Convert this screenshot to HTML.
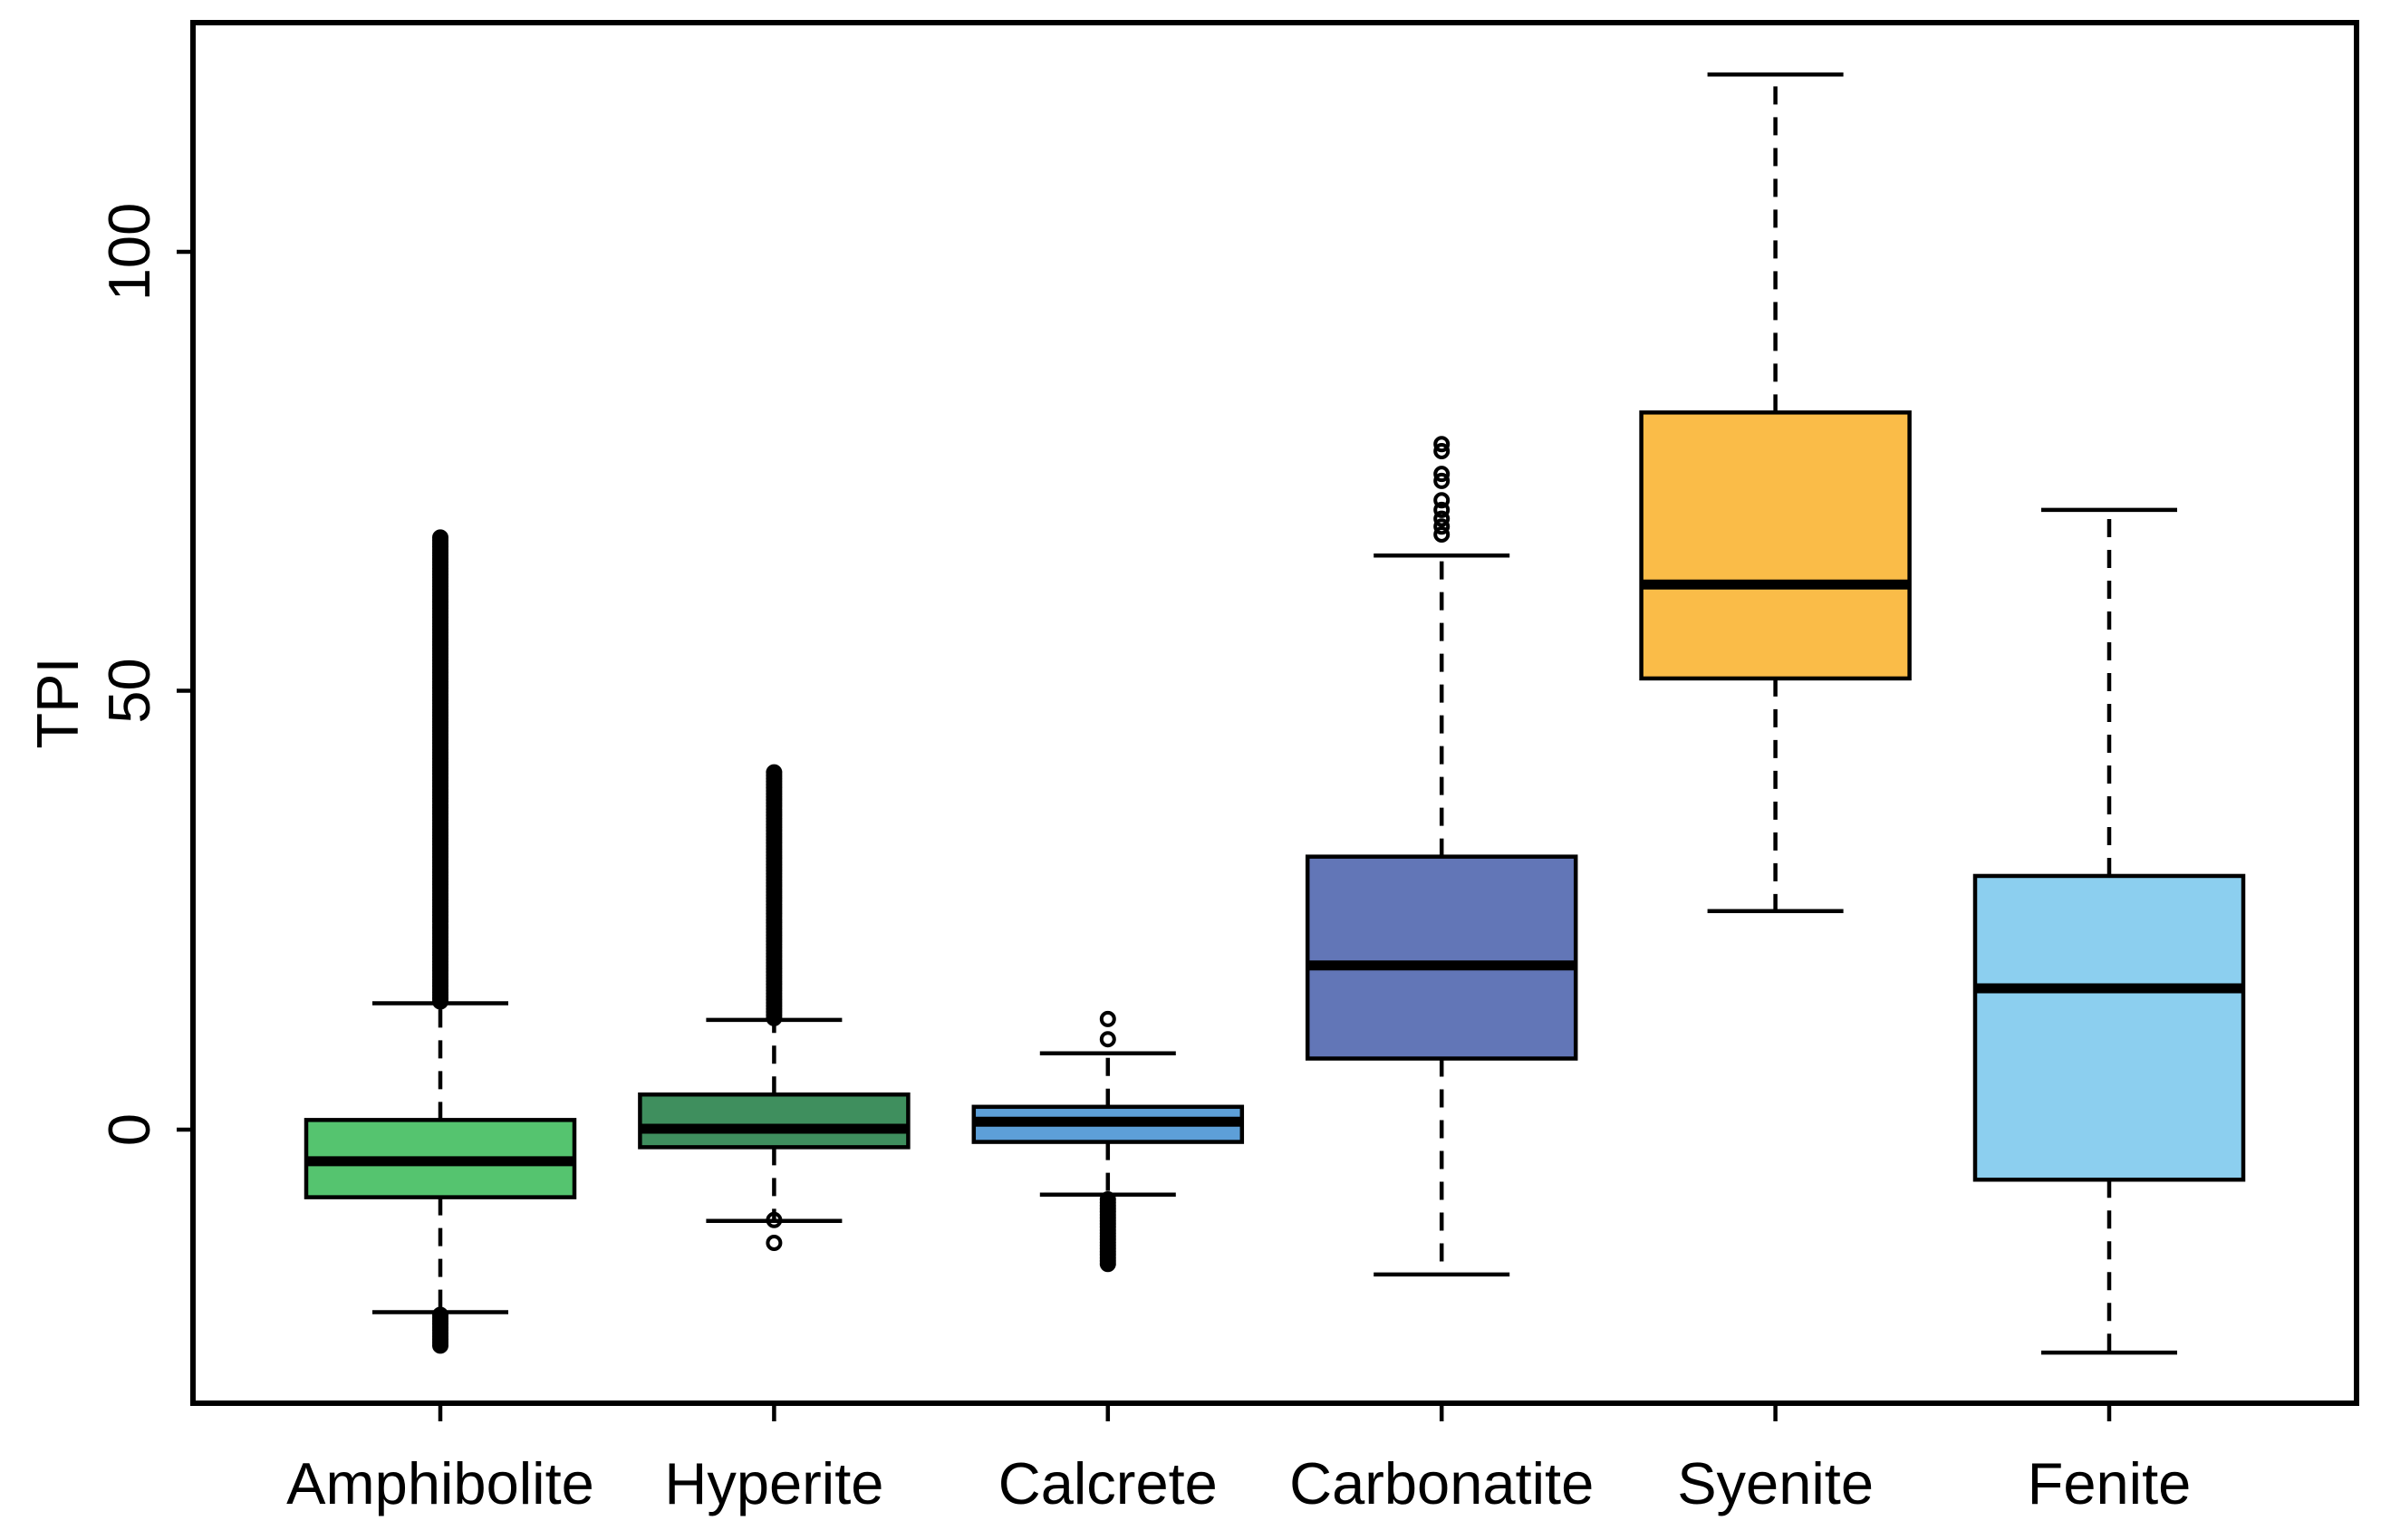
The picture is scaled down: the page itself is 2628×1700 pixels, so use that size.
<!DOCTYPE html>
<html><head><meta charset="utf-8"><style>
html,body{margin:0;padding:0;background:#fff;}
svg{display:block;font-family:"Liberation Sans",Arial,sans-serif;}
</style></head><body>
<svg id="chart" width="2628" height="1700" viewBox="0 0 2628 1700" xmlns="http://www.w3.org/2000/svg">
<g id="marks"></g>
<g id="axes"></g>
</svg>
<script>
const categories = ["Amphibolite","Hyperite","Calcrete","Carbonatite","Syenite","Fenite"];
const colors = ["#55c46f","#3f8f5e","#5d9fd8","#6276b7","#fabc48","#8ccfef"];
const whiskerLow = [-20.8,-10.4,-7.4,-16.5,24.9,-25.4];
const q1 = [-7.7,-2.0,-1.4,8.1,51.4,-5.7];
const medians = [-3.6,0.1,0.9,18.7,62.1,16.1];
const q3 = [1.1,4.0,2.6,31.1,81.7,28.9];
const whiskerHigh = [14.4,12.5,8.7,65.4,120.2,70.6];
// dense outlier runs [low, high] per category (empty = none)
const outlierRuns = [[[14.6,67.6],[-24.6,-21.0]],[[12.7,40.9]],[[-15.3,-7.7]],[],[],[]];
// individual outliers
const outlierPoints = [[],[-10.3,-12.9],[10.3,12.6],[67.8,68.7,69.6,70.6,71.7,73.9,74.7,77.3,78.1],[],[]];
const yTicks = [0,50,100];

const NS="http://www.w3.org/2000/svg";
const L=213,R=2601,T=25,B=1549;
function y(v){return 1247 - v*9.69;}
function x(i){return 486 + i*368.4;}
const HW=148, CW=75, SW=4.5;
const marks=document.getElementById('marks'), axes=document.getElementById('axes');
function mk(tag,attrs,parent){const e=document.createElementNS(NS,tag);for(const k in attrs)e.setAttribute(k,attrs[k]);parent.appendChild(e);return e;}

categories.forEach((c,i)=>{
  const cx=x(i);
  const g=mk('g',{},marks);
  
  
  const wl=mk('line',{x1:cx,x2:cx,y1:y(q3[i]),y2:y(whiskerHigh[i]),stroke:'#000','stroke-width':SW,'stroke-dasharray':'20 14'},g);
  
  
  const wl2=mk('line',{x1:cx,x2:cx,y1:y(q1[i]),y2:y(whiskerLow[i]),stroke:'#000','stroke-width':SW,'stroke-dasharray':'20 14'},g);
  
  
  const c1=mk('line',{x1:cx-CW,x2:cx+CW,y1:y(whiskerHigh[i]),y2:y(whiskerHigh[i]),stroke:'#000','stroke-width':SW},g);
  
  
  const c2=mk('line',{x1:cx-CW,x2:cx+CW,y1:y(whiskerLow[i]),y2:y(whiskerLow[i]),stroke:'#000','stroke-width':SW},g);
  
  
  const r=mk('rect',{x:cx-HW,y:y(q3[i]),width:HW*2,height:y(q1[i])-y(q3[i]),fill:colors[i],stroke:'#000','stroke-width':SW},g);
  
  
  const m=mk('line',{x1:cx-HW,x2:cx+HW,y1:y(medians[i]),y2:y(medians[i]),stroke:'#000','stroke-width':11},g);
  
  
  outlierRuns[i].forEach(run=>{
    for(let v=run[0]; v<=run[1]+1e-9; v+=0.35){
      const o=mk('circle',{cx:cx,cy:y(v),r:7,fill:'none',stroke:'#000','stroke-width':4},g);
      
      
    }
  });
  outlierPoints[i].forEach(v=>{
    const o=mk('circle',{cx:cx,cy:y(v),r:7,fill:'none',stroke:'#000','stroke-width':4},g);
    
    
  });
  const t=mk('line',{x1:cx,x2:cx,y1:B,y2:B+20,stroke:'#000','stroke-width':SW},axes);
  
  
  const lb=mk('text',{x:cx,y:1660,'text-anchor':'middle','font-size':65,fill:'#000'},axes);
  lb.textContent=c;
  
  
});

yTicks.forEach(v=>{
  const t=mk('line',{x1:L-18,x2:L,y1:y(v),y2:y(v),stroke:'#000','stroke-width':SW},axes);
  
  
  const lb=mk('text',{x:0,y:0,'text-anchor':'middle','font-size':65,fill:'#000',transform:'translate(165,'+y(v)+') rotate(-90)'},axes);
  lb.textContent=v;
  
  
});

const frame=mk('rect',{x:L,y:T,width:R-L,height:B-T,fill:'none',stroke:'#000','stroke-width':6},axes);


const yt=mk('text',{x:0,y:0,'text-anchor':'middle','font-size':65,fill:'#000',transform:'translate(86,776) rotate(-90)'},axes);
yt.textContent='TPI';


</script>
</body></html>
